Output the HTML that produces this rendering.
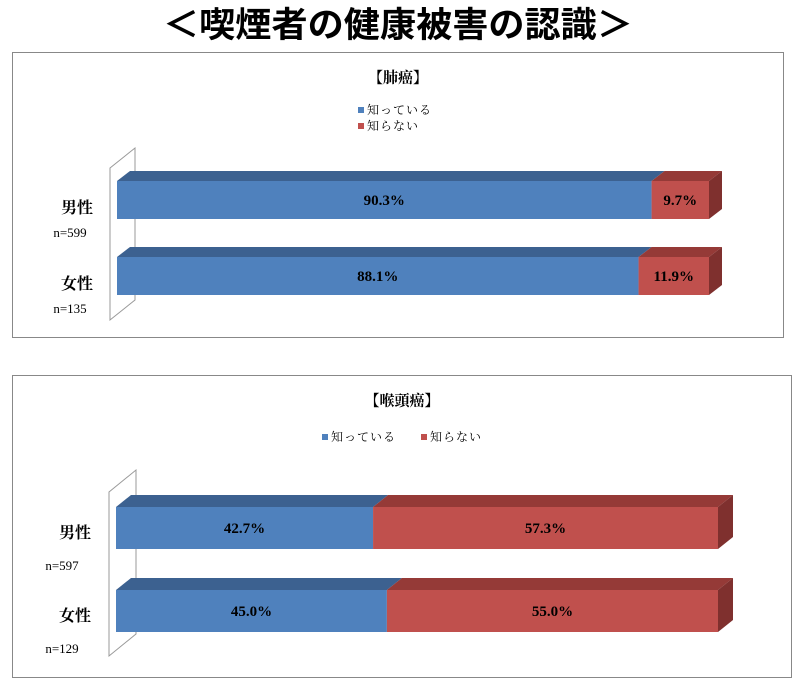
<!DOCTYPE html>
<html><head><meta charset="utf-8">
<style>
body{margin:0;background:#fff;width:804px;height:691px;overflow:hidden;font-family:"Liberation Serif","Noto Serif CJK SC",serif}
svg text{font-family:"Liberation Serif","Noto Serif CJK SC",serif}
</style></head><body>
<svg width="804" height="691" xmlns="http://www.w3.org/2000/svg" id="root">
<text x="398" y="37" text-anchor="middle" font-size="35" font-weight="bold" style="font-family:'Noto Sans CJK JP',sans-serif" textLength="470" lengthAdjust="spacingAndGlyphs">＜喫煙者の健康被害の認識＞</text>
<g id="c1"></g><g id="c2"></g>
</svg>
<script>
const categories=["男性","女性"];
const nLabels1=["n=599","n=135"];
const nLabels2=["n=597","n=129"];
const know1=[90.3,88.1];
const notKnow1=[9.7,11.9];
const know2=[42.7,45.0];
const notKnow2=[57.3,55.0];
const NS="http://www.w3.org/2000/svg";
function mk(p,t,a){const e=document.createElementNS(NS,t);for(const k in a)e.setAttribute(k,a[k]);p.appendChild(e);return e;}
function chart(g,cfg){
  const r=mk(g,'rect',{x:cfg.px,y:cfg.py,width:cfg.pw,height:cfg.ph,fill:'#fff',stroke:'#888','stroke-width':1});
  
  
  const t=mk(g,'text',{x:cfg.px+cfg.pw/2,y:cfg.py+30,'text-anchor':'middle','font-size':15,'font-weight':'bold'});t.textContent=cfg.title;
  
  
  cfg.legend.forEach((L,i)=>{
    const lg=mk(g,'g',{});
    
    
    mk(lg,'rect',{x:L.x,y:L.y-7,width:6,height:6,fill:L.c});
    const tx=mk(lg,'text',{x:L.x+9,y:L.y,'font-size':12,'letter-spacing':'1'});tx.textContent=L.t;
  });
  const x0=cfg.x0,W=cfg.w,dx=cfg.dx,dy=cfg.dy;
  const xs=v=>x0+W*v/100;
  const wall=mk(g,'path',{d:`M${x0-7} ${cfg.wallTop+dy+10} L${x0-7+dx+12} ${cfg.wallTop} L${x0-7+dx+12} ${cfg.wallBot-dy-10} L${x0-7} ${cfg.wallBot} Z`,fill:'none',stroke:'#999','stroke-width':1});
  
  
  categories.forEach((c,i)=>{
    const y=cfg.ys[i],h=cfg.h;
    const a=cfg.k[i],b=cfg.n[i];
    const segs=[[0,a,'#4f81bd','#3c6190','#3a5f8b'],[a,a+b,'#c0504d','#953a37','#7f302e']];
    segs.forEach((s,j)=>{
      const sg=mk(g,'g',{});
      
      
      const l=xs(s[0]),rr=xs(s[1]);
      mk(sg,'path',{d:`M${l} ${y} L${l+dx} ${y-dy} L${rr+dx} ${y-dy} L${rr} ${y} Z`,fill:s[3]});
      mk(sg,'rect',{x:l,y:y,width:rr-l,height:h,fill:s[2]});
      if(j===1) mk(sg,'path',{d:`M${rr} ${y} L${rr+dx} ${y-dy} L${rr+dx} ${y+h-dy} L${rr} ${y+h} Z`,fill:s[4]});
      const v=(j?b:a);
      const tx=mk(sg,'text',{x:(l+rr)/2,y:y+h/2+5,'text-anchor':'middle','font-size':15,'font-weight':'bold'});tx.textContent=v.toFixed(1)+'%';
    });
    const cl=mk(g,'text',{x:cfg.lx,y:y+h/2+cfg.cOff,'text-anchor':'middle','font-size':16,'font-weight':'bold'});cl.textContent=c;
    
    
    const nl=mk(g,'text',{x:cfg.nx,y:y+h/2+cfg.nOff,'text-anchor':'middle','font-size':13});nl.textContent=cfg.nl[i];
    
    
  });
}
chart(document.getElementById('c1'),{px:12.5,py:52.5,pw:771,ph:285,title:'【肺癌】',
  legend:[{x:358,y:114,c:'#4f81bd',t:'知っている'},{x:358,y:130,c:'#c0504d',t:'知らない'}],
  x0:117,w:592,dx:13,dy:10,h:38,ys:[181,257],wallTop:148,wallBot:320,
  k:know1,n:notKnow1,lx:77,nx:70,nl:nLabels1,nOff:37,cOff:13});
chart(document.getElementById('c2'),{px:12.5,py:375.5,pw:779,ph:302,title:'【喉頭癌】',
  legend:[{x:322,y:441,c:'#4f81bd',t:'知っている'},{x:421,y:441,c:'#c0504d',t:'知らない'}],
  x0:116,w:602,dx:15,dy:12,h:42,ys:[507,590],wallTop:470,wallBot:656,
  k:know2,n:notKnow2,lx:75,nx:62,nl:nLabels2,nOff:42,cOff:10});
</script>
</body></html>
